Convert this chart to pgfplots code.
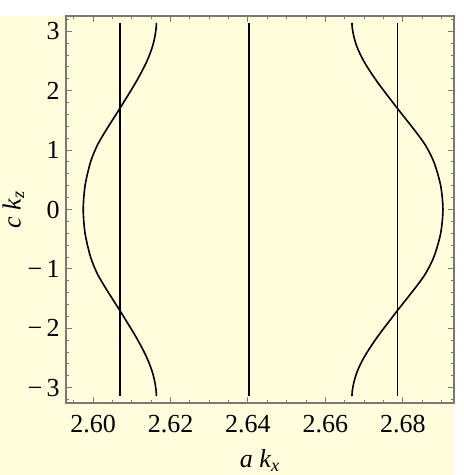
\documentclass[border=0pt]{standalone}
\usepackage{fontspec}
\setmainfont{Liberation Serif}
\usepackage{pgfplots}
\pgfplotsset{compat=1.18}
\definecolor{bgyellow}{RGB}{255,253,220}
\definecolor{framegray}{RGB}{120,120,120}
\begin{document}
\begin{tikzpicture}
\useasboundingbox (-33pt,-36pt) rectangle (199pt,201.5pt);
\fill[bgyellow] (-33pt,-36pt) rectangle (194pt,193.5pt);
\begin{axis}[
  at={(0,0)}, anchor=south west,
  scale only axis, width=194pt, height=193.5pt,
  xmin=2.5930, xmax=2.6932, ymin=-3.258, ymax=3.258,
  xtick={2.60,2.62,2.64,2.66,2.68},
  xticklabels={2.60,2.62,2.64,2.66,2.68},
  ytick={-3,-2,-1,0,1,2,3},
  yticklabels={−\,3,−\,2,−\,1,0,1,2,3},
  minor xtick={2.595,2.605,2.61,2.615,2.625,2.63,2.635,2.645,2.65,2.655,2.665,2.67,2.675,2.685,2.69},
  minor ytick={-3.2,-2.8,-2.6,-2.4,-2.2,-1.8,-1.6,-1.4,-1.2,-0.8,-0.6,-0.4,-0.2,0.2,0.4,0.6,0.8,1.2,1.4,1.6,1.8,2.2,2.4,2.6,2.8,3.2},
  tick align=inside, tick pos=both,
  xticklabel pos=bottom, yticklabel pos=left,
  axis line style={framegray, line width=0.6pt},
  every tick/.style={framegray, line width=0.5pt},
  major tick length=2.8pt, minor tick length=1.6pt,
  ticklabel style={font=\fontsize{13}{15}\selectfont},
  xticklabel style={anchor=base, yshift=-15pt, inner sep=0pt},
  yticklabel style={anchor=east, inner sep=0pt, xshift=-3pt},
  xlabel={\textit{a k}\textsubscript{\textit{x}}},
  ylabel={\textit{c k}\textsubscript{\textit{z}}},
  label style={font=\fontsize{13}{15}\selectfont},
  xlabel style={at={(axis description cs:0.5,0)}, anchor=base, yshift=-32.5pt, inner sep=0pt},
  ylabel style={at={(axis description cs:-0.117,0.5)}, anchor=base, inner sep=0pt},
  clip=false,
]
% left curve
\addplot[black, line width=0.8pt, smooth] coordinates {
(2.61635,-3.1416) (2.61627,-3.05) (2.61592,-2.9) (2.61536,-2.75) (2.61455,-2.6) (2.61356,-2.45) (2.61238,-2.3) (2.61111,-2.15) (2.60974,-2.0) (2.60832,-1.85) (2.60690,-1.7) (2.60544,-1.55) (2.60397,-1.4) (2.60255,-1.25) (2.60123,-1.1) (2.60019,-0.95) (2.59934,-0.8) (2.59854,-0.6) (2.59792,-0.4) (2.59759,-0.2) (2.59745,0)
(2.59759,0.2) (2.59792,0.4) (2.59854,0.6) (2.59934,0.8) (2.60019,0.95) (2.60123,1.1) (2.60255,1.25) (2.60397,1.4) (2.60544,1.55) (2.60690,1.7) (2.60832,1.85) (2.60974,2.0) (2.61111,2.15) (2.61238,2.3) (2.61356,2.45) (2.61455,2.6) (2.61536,2.75) (2.61592,2.9) (2.61627,3.05) (2.61635,3.1416)
};
% right curve
\addplot[black, line width=0.8pt, smooth] coordinates {
(2.66685,-3.1416) (2.66694,-3.05) (2.66738,-2.9) (2.66808,-2.75) (2.66908,-2.6) (2.67032,-2.45) (2.67179,-2.3) (2.67337,-2.15) (2.67508,-2.0) (2.67684,-1.85) (2.67860,-1.7) (2.68042,-1.55) (2.68224,-1.4) (2.68401,-1.25) (2.68565,-1.1) (2.68694,-0.95) (2.68800,-0.8) (2.68900,-0.6) (2.68976,-0.4) (2.69017,-0.2) (2.69035,0)
(2.69017,0.2) (2.68976,0.4) (2.68900,0.6) (2.68800,0.8) (2.68694,0.95) (2.68565,1.1) (2.68401,1.25) (2.68224,1.4) (2.68042,1.55) (2.67860,1.7) (2.67684,1.85) (2.67508,2.0) (2.67337,2.15) (2.67179,2.3) (2.67032,2.45) (2.66908,2.6) (2.66808,2.75) (2.66738,2.9) (2.66694,3.05) (2.66685,3.1416)
};
% vertical lines
\addplot[black, line width=0.8pt] coordinates {(2.6069,-3.1416) (2.6069,3.1416)};
\addplot[black, line width=0.8pt] coordinates {(2.6403,-3.1416) (2.6403,3.1416)};
\addplot[black, line width=0.8pt] coordinates {(2.6786,-3.1416) (2.6786,3.1416)};
\end{axis}
\end{tikzpicture}
\end{document}
